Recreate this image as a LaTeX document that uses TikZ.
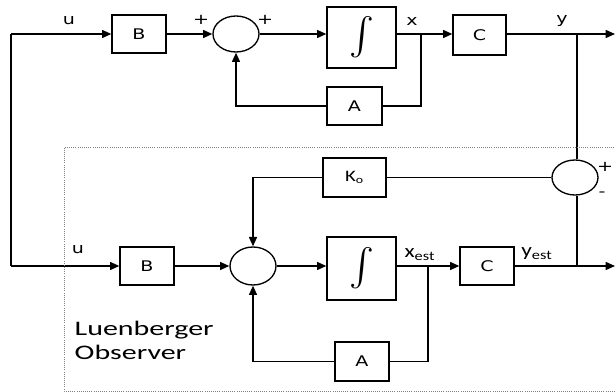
\documentclass[tikz,border=0pt]{standalone}
\usepackage{fontspec}
\usepackage{graphicx}
\setmainfont{DejaVu Sans}
\newfontfamily\calfont{Carlito}
\newfontfamily\intfont{Latin Modern Math}
\usetikzlibrary{arrows.meta,shapes.geometric}

\newcommand{\wide}[2][1.3]{\scalebox{#1}[1]{#2}}
\newcommand{\bigint}{{\intfont\fontsize{28}{28}\selectfont ∫}}

\tikzset{every picture/.style={line width=1.1pt}}
\tikzset{
  blk/.style={draw, rectangle, inner sep=0pt, line width=1pt, font=\fontsize{11}{13}\selectfont},
  sumnode/.style={draw, ellipse, inner sep=0pt, line width=1pt},
  sig/.style={-{Triangle[length=7pt,width=6pt]}},
  lbl/.style={inner sep=0.75pt, font=\fontsize{11}{13}\selectfont},
}

\begin{document}
\begin{tikzpicture}[x=0.75pt,y=0.75pt,yscale=-1,xscale=1]
\useasboundingbox (0,0) rectangle (615,392);

%Plant blocks
\node [blk, minimum width=40.5pt, minimum height=28.5pt] (Bt) at (139,34) {\wide{B}};
\node [sumnode, minimum width=34.5pt, minimum height=27pt] (St) at (236,34) {};
\node [blk, minimum width=51.75pt, minimum height=45.75pt] (It) at (361.5,37.5) {\bigint};
\node [blk, minimum width=39.75pt, minimum height=30pt] (Ct) at (479.5,35) {\wide{C}};
\node [blk, minimum width=41.25pt, minimum height=28.5pt] (At) at (354.5,106) {\wide{A}};

%Observer blocks
\node [blk, minimum width=40.5pt, minimum height=28.5pt] (Bb) at (147,266) {\wide{B}};
\node [sumnode, minimum width=34.5pt, minimum height=28.5pt] (Sb) at (253,266) {};
\node [blk, minimum width=51.75pt, minimum height=47.25pt] (Ib) at (361.5,268.5) {\bigint};
\node [blk, minimum width=40.5pt, minimum height=28.5pt] (Cb) at (487,266) {\wide{C}};
\node [blk, minimum width=40.5pt, minimum height=29.25pt] (Ab) at (362,361.5) {\wide{A}};
\node [blk, minimum width=47.25pt, minimum height=29.25pt, font=\calfont\fontsize{12}{14}\selectfont] (Ko) at (354.5,177.5) {\wide{K\textsubscript{o}}};
\node [sumnode, minimum width=34.5pt, minimum height=26.25pt] (Sr) at (575,177.5) {};

%Branch points
\coordinate (in0) at (11,34);
\coordinate (inb) at (11,266);
\coordinate (xt) at (421,34);
\coordinate (yt) at (577,34);
\coordinate (outt) at (615,34);
\coordinate (xb) at (428,266);
\coordinate (yb) at (577,266);
\coordinate (outb) at (615,266);

%Plant connectors
\draw [sig] (in0) -- (Bt.west);
\draw [sig] (Bt.east) -- (St.west);
\draw [sig] (St.east) -- (St.east -| It.west);
\draw [sig] (It.east |- xt) -- (Ct.west |- xt);
\draw [sig] (Ct.east |- yt) -- (outt);
\draw (xt) |- (At.east);
\draw [sig] (At.west) -| (St.south);

%Observer connectors
\draw (in0) -- (inb);
\draw [sig] (inb) -- (Bb.west);
\draw [sig] (Bb.east) -- (Sb.west);
\draw [sig] (Sb.east) -- (Sb.east -| Ib.west);
\draw [sig] (Ib.east |- xb) -- (Cb.west);
\draw [sig] (Cb.east) -- (outb);
\draw (xb) |- (Ab.east);
\draw [sig] (Ab.west) -| (Sb.south);
\draw (yt) -- (yt |- Sr.north);
\draw (yb) -- (yb |- Sr.south);
\draw (Sr.west) -- (Ko.east);
\draw [sig] (Ko.west) -| (Sb.north);

%Observer frame
\draw [densely dotted, line width=0.6pt, gray] (616,147) -- (64,147) -- (64,391) -- (616,391);

% Text Node
\node [lbl] (lu1) at (69,20) {\wide{u}};
\node [lbl] (lp1) at (201,20) {\wide{+}};
\node [lbl] (lp2) at (265,20) {\wide{+}};
\node [lbl] (lx) at (412,21) {\wide{x}};
\node [lbl] (ly) at (562,21) {\wide{y}};
\node [lbl] (lu2) at (78,249) {\wide{u}};
\node [lbl, font=\calfont\fontsize{14}{16}\selectfont] (lxe) at (420,255) {\wide[1.25]{x\textsubscript{est}}};
\node [lbl, font=\calfont\fontsize{14}{16}\selectfont] (lye) at (537,254) {\wide[1.25]{y\textsubscript{est}}};
\node [lbl] (lp3) at (605,167) {\wide{+}};
\node [lbl] (lm3) at (602,194) {\wide{-}};
\node [lbl, font=\calfont\fontsize{15.5}{18}\selectfont, anchor=west, align=left] (lobs) at (73,340) {\wide[1.45]{Luenberger}\\\wide[1.45]{Observer}};

\end{tikzpicture}
\end{document}
